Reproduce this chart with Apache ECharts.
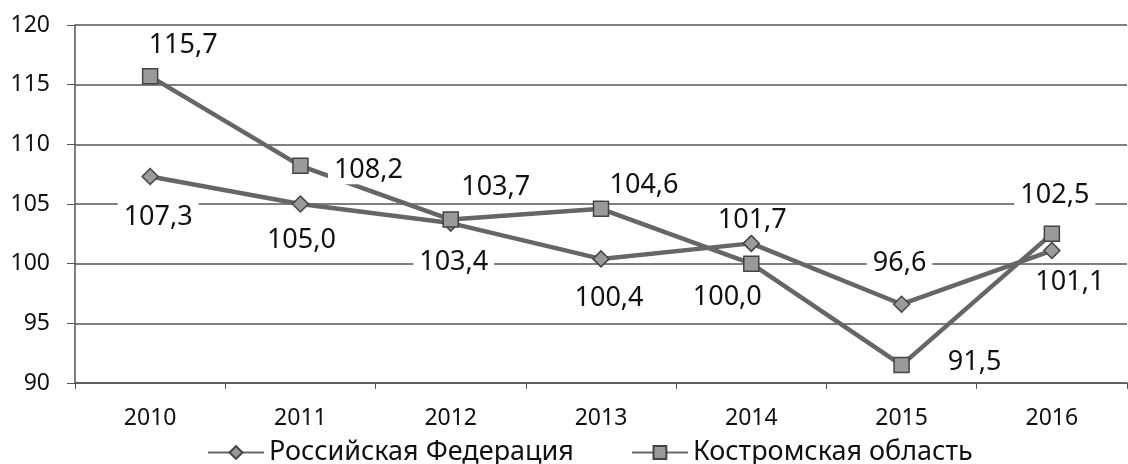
<!DOCTYPE html>
<html>
<head>
<meta charset="utf-8">
<script src="https://cdn.jsdelivr.net/npm/echarts@6/dist/echarts.min.js"></script>
<style>
  html, body { margin: 0; padding: 0; background: #fff; }
  #chart { width: 1128px; height: 464px; }
</style>
</head>
<body>
<div id="chart"></div>
<script>
  // годы и значения
  var years = ['2010', '2011', '2012', '2013', '2014', '2015', '2016'];
  var rfValues = [107.3, 105.0, 103.4, 100.4, 101.7, 96.6, 101.1];
  var kostromaValues = [115.7, 108.2, 103.7, 104.6, 100.0, 91.5, 102.5];
  var seriesNames = ['Российская Федерация', 'Костромская область'];

  // смещения подписей относительно точек (px)
  var rfLabelOffsets = [[8, 41], [1, 36], [3, 39], [8, 39], [1, -23], [-2, -41], [18, 32]];
  var kosLabelOffsets = [[33, -31], [68, 4], [45, -32], [43, -23], [-24, 34], [73, -3], [3, -39]];

  var font = '"Noto Sans", "DejaVu Sans", sans-serif';

  function withLabels(values, offsets) {
    return values.map(function (v, i) {
      return {
        value: v,
        label: { offset: offsets[i] }
      };
    });
  }

  var labelStyle = {
    show: true,
    position: 'inside',
    align: 'center',
    verticalAlign: 'middle',
    fontFamily: font,
    fontSize: 27,
    color: '#111',
    backgroundColor: '#fff',
    padding: [1, 6],
    formatter: function (p) {
      return p.value.toFixed(1).replace('.', ',');
    }
  };

  var chart = echarts.init(document.getElementById('chart'));
  chart.setOption({
    animation: false,
    textStyle: { fontFamily: font },
    grid: { left: 75, right: 1, top: 25, bottom: 81 },
    legend: {
      top: 434,
      left: 202,
      itemWidth: 56,
      itemHeight: 16,
      itemGap: 57,
      textStyle: { fontSize: 27, color: '#111', fontFamily: font },
      data: seriesNames
    },
    xAxis: {
      type: 'category',
      data: years,
      boundaryGap: true,
      axisLine: { lineStyle: { color: '#555', width: 1.5 } },
      axisTick: { show: true, length: 6, lineStyle: { color: '#555' } },
      axisLabel: { fontSize: 23, color: '#111', margin: 24 }
    },
    yAxis: {
      type: 'value',
      min: 90,
      max: 120,
      interval: 5,
      axisLine: { show: true, lineStyle: { color: '#555', width: 1.5 } },
      axisTick: { show: true, length: 8, inside: false, lineStyle: { color: '#555' } },
      splitLine: { lineStyle: { color: '#555', width: 1.5 } },
      axisLabel: { fontSize: 23, color: '#111', margin: 25 }
    },
    series: [
      {
        name: seriesNames[0],
        type: 'line',
        symbol: 'diamond',
        symbolSize: 16,
        lineStyle: { color: '#666', width: 4.5 },
        itemStyle: { color: '#9a9a9a', borderColor: '#444', borderWidth: 1.5 },
        label: labelStyle,
        z: 3,
        data: withLabels(rfValues, rfLabelOffsets)
      },
      {
        name: seriesNames[1],
        type: 'line',
        symbol: 'rect',
        symbolSize: 15,
        lineStyle: { color: '#666', width: 4.5 },
        itemStyle: { color: '#9a9a9a', borderColor: '#444', borderWidth: 1.5 },
        label: labelStyle,
        z: 3,
        data: withLabels(kostromaValues, kosLabelOffsets)
      }
    ]
  });
</script>
</body>
</html>
